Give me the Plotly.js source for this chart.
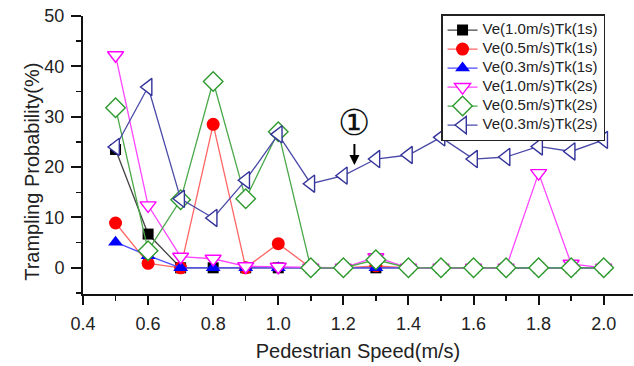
<!DOCTYPE html>
<html>
<head>
<meta charset="utf-8">
<script src="https://cdn.plot.ly/plotly-3.0.1.min.js"></script>
<style>html,body{margin:0;padding:0;background:#fff;}#chart{width:634px;height:366px;}</style>
</head>
<body>
<div id="chart"></div>
<script>
const speeds = [0.5,0.6,0.7,0.8,0.9,1.0,1.1,1.2,1.3,1.4,1.5,1.6,1.7,1.8,1.9,2.0];
const ve10tk1 = [23.5,6.7,0,0,0,0,0,0,0,0,0,0,0,0,0,0];
const ve05tk1 = [8.9,0.9,0,28.5,0,4.8,0,0,0.4,0,0,0,0,0,0,0];
const ve03tk1 = [5.1,2.4,0,0,0,0,0,0,0,0,0,0,0,0,0,0];
const ve10tk2 = [42.2,12.4,2.2,1.8,0.3,0.2,0,0,2.1,0,0,0,0,18.8,0.8,0];
const ve05tk2 = [31.8,3.4,13.5,37,13.7,27,0,0,1.6,0,0,0,0,0,0,0];
const ve03tk2 = [24,35.9,13.7,9.9,17.4,26.5,16.7,18.3,21.6,22.4,25.9,21.6,22,24.1,23.1,25.4];
const names = ["Ve(1.0m/s)Tk(1s)","Ve(0.5m/s)Tk(1s)","Ve(0.3m/s)Tk(1s)","Ve(1.0m/s)Tk(2s)","Ve(0.5m/s)Tk(2s)","Ve(0.3m/s)Tk(2s)"];
const xTicks = [0.4,0.6,0.8,1.0,1.2,1.4,1.6,1.8,2.0];
const xTickText = ["0.4","0.6","0.8","1.0","1.2","1.4","1.6","1.8","2.0"];
const yTicks = [0,10,20,30,40,50];
const xTitle = 'Pedestrian Speed(m/s)';
const yTitle = 'Trampling Probability(%)';

function tr(y, name, lineColor, markerColor, symbol, size, open){
  return {
    x: speeds, y: y, name: '<span style="font-size:15px">' + name + '</span>',
    type: 'scatter', mode: 'lines+markers',
    line: {color: lineColor, width: 1.3},
    marker: {symbol: symbol, size: size, color: open ? '#ffffff' : markerColor,
             line: {color: markerColor, width: open ? 1.4 : 0}}
  };
}
const data = [
  tr(ve10tk1, names[0], '#444444', '#000000', 'square', 11, false),
  tr(ve05tk1, names[1], '#ff6666', '#ff0000', 'circle', 13, false),
  tr(ve03tk1, names[2], '#4d4dff', '#0000ff', 'triangle-up', 13, false),
  tr(ve10tk2, names[3], '#ff44ff', '#ff00ff', 'triangle-down', 14, true),
  tr(ve05tk2, names[4], '#4aa84a', '#2e9a2e', 'diamond', 15, true),
  tr(ve03tk2, names[5], '#4a4aa8', '#33339a', 'triangle-left', 15, true)
];
const fontFam = 'Arial, "Liberation Sans", sans-serif';
const layout = {
  width: 634, height: 366,
  margin: {l: 83, r: 1, t: 16, b: 72},
  paper_bgcolor: '#fff', plot_bgcolor: '#fff',
  font: {family: fontFam, color: '#222'},
  showlegend: true,
  legend: {x: 0.651, y: 1.007, xanchor: 'left', yanchor: 'top',
           bgcolor: '#fff', bordercolor: '#222', borderwidth: 1.5,
           font: {size: 11, family: fontFam, color: '#222'}, tracegroupgap: 0, itemwidth: 30},
  xaxis: {range: [0.4, 2.09], tickvals: xTicks, ticktext: xTickText,
          showline: true, linecolor: '#111', linewidth: 2, showgrid: false, zeroline: false,
          ticks: 'outside', ticklen: 9, tickwidth: 2, tickcolor: '#111', ticklabelstandoff: 3,
          minor: {dtick: 0.1, ticks: 'outside', ticklen: 5, tickwidth: 1.5, tickcolor: '#111', showgrid: false},
          tickfont: {size: 18, family: fontFam, color: '#222'},
          title: {text: xTitle, font: {size: 20, family: fontFam, color: '#222'}, standoff: 11}},
  yaxis: {range: [-5.2, 50], tickvals: yTicks,
          showline: true, linecolor: '#111', linewidth: 2, showgrid: false, zeroline: false,
          ticks: 'outside', ticklen: 10, tickwidth: 2, tickcolor: '#111', ticklabelstandoff: 3,
          minor: {dtick: 5, tick0: 0, ticks: 'outside', ticklen: 5, tickwidth: 1.5, tickcolor: '#111', showgrid: false},
          tickfont: {size: 18, family: fontFam, color: '#222'}},
  annotations: [{
    x: 1.234, y: 20.4, xref: 'x', yref: 'y', text: '①',
    font: {size: 36, family: 'DejaVu Serif, serif', color: '#111'},
    showarrow: true, ax: 0, ay: -43, arrowhead: 2, arrowsize: 1, arrowwidth: 2, arrowcolor: '#000'
  }, {
    x: -0.093, y: 0.439, xref: 'paper', yref: 'paper', text: yTitle, textangle: -90,
    showarrow: false, xanchor: 'center', yanchor: 'middle',
    font: {size: 20, family: fontFam, color: '#222'}
  }]
};
Plotly.newPlot('chart', data, layout, {displayModeBar: false, staticPlot: true});
</script>
</body>
</html>
